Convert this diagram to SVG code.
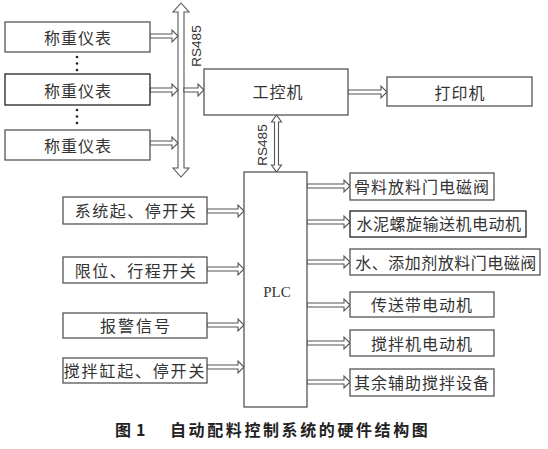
<svg xmlns="http://www.w3.org/2000/svg" width="548" height="449" viewBox="0 0 548 449">
<style>
.box{fill:#fff;stroke:#555;stroke-width:1.3}
.t{font-family:"Noto Sans CJK SC","Noto Sans CJK JP",sans-serif;font-size:16px;fill:#333;text-anchor:middle;dominant-baseline:central;letter-spacing:1px}
.ha{fill:#fff;stroke:#555;stroke-width:1.1;stroke-linejoin:miter}
.rs{font-family:"Liberation Sans",Arial,sans-serif;font-size:13.5px;fill:#333;text-anchor:middle;dominant-baseline:central}
.plc{font-family:"Liberation Serif","Times New Roman",serif;font-size:15px;fill:#333;text-anchor:middle;dominant-baseline:central}
.cap{font-family:"Noto Sans CJK SC",sans-serif;font-size:16px;font-weight:bold;fill:#222;dominant-baseline:central}
</style>
<rect width="548" height="449" fill="#fff"/>
<g id="connectors">
<path class="ha" d="M178,12 L173,12 L181,3 L189,12 L184,12 L184,168 L189,168 L181,177 L173,168 L178,168 Z"/>
<path class="ha" d="M274.5,122 L271.5,122 L276.5,115 L281.5,122 L278.5,122 L278.5,165 L281.5,165 L276.5,172 L271.5,165 L274.5,165 Z"/>
<path class="ha" d="M150,34 L172,34 L172,30 L178,36 L172,42 L172,38 L150,38 Z"/>
<path class="ha" d="M150,88 L172,88 L172,84 L178,90 L172,96 L172,92 L150,92 Z"/>
<path class="ha" d="M150,141 L172,141 L172,137 L178,143 L172,149 L172,145 L150,145 Z"/>
<path class="ha" d="M184,88 L198,88 L198,84 L204,90 L198,96 L198,92 L184,92 Z"/>
<path class="ha" d="M348,90 L381,90 L381,86 L387,92 L381,98 L381,94 L348,94 Z"/>
<path class="ha" d="M207,209 L238,209 L238,205 L244,211 L238,217 L238,213 L207,213 Z"/>
<path class="ha" d="M207,267 L238,267 L238,263 L244,269 L238,275 L238,271 L207,271 Z"/>
<path class="ha" d="M207,323 L238,323 L238,319 L244,325 L238,331 L238,327 L207,327 Z"/>
<path class="ha" d="M207,365 L238,365 L238,361 L244,367 L238,373 L238,369 L207,369 Z"/>
<path class="ha" d="M307,184 L344,184 L344,180 L350,186 L344,192 L344,188 L307,188 Z"/>
<path class="ha" d="M307,220 L344,220 L344,216 L350,222 L344,228 L344,224 L307,224 Z"/>
<path class="ha" d="M307,260 L344,260 L344,256 L350,262 L344,268 L344,264 L307,264 Z"/>
<path class="ha" d="M307,303 L344,303 L344,299 L350,305 L344,311 L344,307 L307,307 Z"/>
<path class="ha" d="M307,341 L344,341 L344,337 L350,343 L344,349 L344,345 L307,345 Z"/>
<path class="ha" d="M307,380 L344,380 L344,376 L350,382 L344,388 L344,384 L307,384 Z"/>
<text class="rs" transform="translate(196,46) rotate(-90)">RS485</text>
<text class="rs" transform="translate(262,145) rotate(-90)">RS485</text>
</g>
<g id="dots" fill="#222">
<circle cx="77" cy="57" r="1.3"/><circle cx="77" cy="63.5" r="1.3"/><circle cx="77" cy="70" r="1.3"/>
<circle cx="77" cy="110" r="1.3"/><circle cx="77" cy="116.5" r="1.3"/><circle cx="77" cy="123" r="1.3"/>
</g>
<g id="scale1"><rect class="box" x="5" y="22" width="145" height="30"/><text class="t" x="78" y="37">称重仪表</text></g>
<g id="scale2"><rect class="box" x="5" y="74" width="145" height="31" style="stroke:#222"/><text class="t" x="78" y="90">称重仪表</text></g>
<g id="scale3"><rect class="box" x="5" y="130" width="145" height="30"/><text class="t" x="78" y="145">称重仪表</text></g>
<g id="ipc"><rect class="box" x="204" y="69" width="144" height="46"/><text class="t" x="278" y="91">工控机</text></g>
<g id="printer"><rect class="box" x="387" y="77" width="145" height="29"/><text class="t" x="460" y="92">打印机</text></g>
<g id="plc"><rect class="box" x="244" y="172" width="63" height="235"/><text class="plc" x="277" y="292">PLC</text></g>
<g id="in1"><rect class="box" x="63" y="197" width="144" height="27"/><text class="t" x="136" y="210" style="letter-spacing:1.5px">系统起、停开关</text></g>
<g id="in2"><rect class="box" x="63" y="257" width="144" height="26"/><text class="t" x="136" y="270" style="letter-spacing:1.5px">限位、行程开关</text></g>
<g id="in3"><rect class="box" x="63" y="313" width="144" height="25"/><text class="t" x="136" y="325" style="letter-spacing:2px">报警信号</text></g>
<g id="in4"><rect class="box" x="63" y="358" width="144" height="25"/><text class="t" x="135" y="370" style="letter-spacing:1.8px">搅拌缸起、停开关</text></g>
<g id="out1"><rect class="box" x="350" y="173" width="144" height="27"/><text class="t" x="422" y="186">骨料放料门电磁阀</text></g>
<g id="out2"><rect class="box" x="350" y="211" width="176" height="26" style="stroke:#222"/><text class="t" x="439" y="223" style="letter-spacing:0.5px">水泥螺旋输送机电动机</text></g>
<g id="out3"><rect class="box" x="350" y="249" width="190" height="26"/><text class="t" x="446" y="262" style="letter-spacing:0.5px">水、添加剂放料门电磁阀</text></g>
<g id="out4"><rect class="box" x="350" y="292" width="144" height="25"/><text class="t" x="422" y="304">传送带电动机</text></g>
<g id="out5"><rect class="box" x="350" y="330" width="144" height="26"/><text class="t" x="422" y="343">搅拌机电动机</text></g>
<g id="out6"><rect class="box" x="350" y="369" width="144" height="27"/><text class="t" x="422" y="382">其余辅助搅拌设备</text></g>
<text class="cap" x="115" y="429">图</text>
<text class="cap" x="136" y="429">1</text>
<text class="cap" x="170" y="429" style="letter-spacing:2.6px">自动配料控制系统的硬件结构图</text>
</svg>
